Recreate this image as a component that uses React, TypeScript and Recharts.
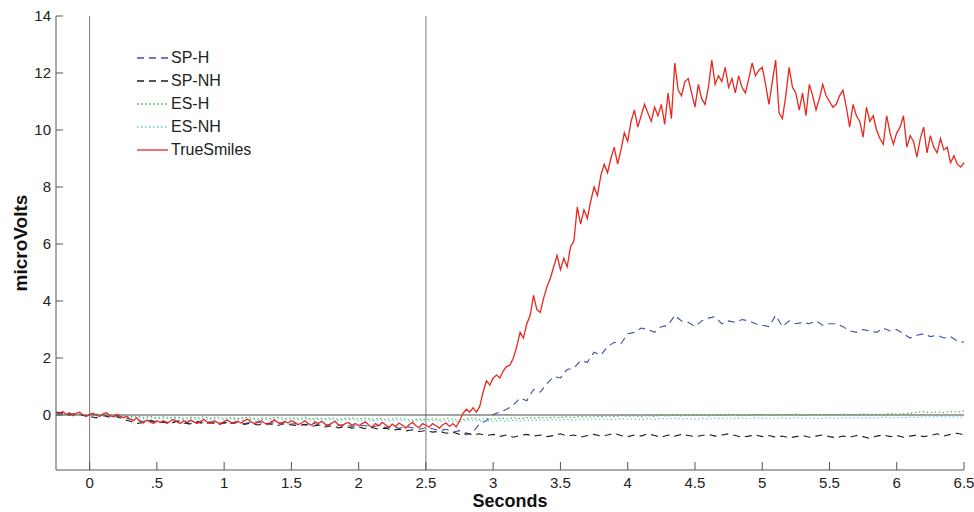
import { LineChart, Line, XAxis, YAxis, ReferenceLine, Legend } from 'recharts';

// sample grids (seconds)
const T_START = -0.25;
const STEP_FINE = 0.025; // TrueSmiles
const STEP = 0.05; // the other four traces

const xTicks = [0, 0.5, 1, 1.5, 2, 2.5, 3, 3.5, 4, 4.5, 5, 5.5, 6, 6.5];
const xTickLabels = ['0', '.5', '1', '1.5', '2', '2.5', '3', '3.5', '4', '4.5', '5', '5.5', '6', '6.5'];
const yTicks = [0, 2, 4, 6, 8, 10, 12, 14];

const trueSmiles = [
  0.1, 0.04, 0.12, 0.02, 0.08, -0.02, 0.06, 0.1, 0.0, -0.05, 0.02,
  0.06, 0.0, -0.05, 0.04, 0.08, -0.02, -0.06, 0.02, -0.04, -0.1, -0.05, -0.14, -0.2, -0.1, -0.22, -0.28, -0.18, -0.24, -0.3, -0.2,
  -0.26, -0.2, -0.3, -0.22, -0.16, -0.24, -0.3, -0.2, -0.26, -0.18, -0.24, -0.3, -0.22, -0.16, -0.25, -0.3, -0.2, -0.26, -0.32, -0.22,
  -0.18, -0.26, -0.3, -0.22, -0.28, -0.2, -0.15, -0.24, -0.3, -0.26, -0.2, -0.28, -0.34, -0.24, -0.18, -0.26, -0.32, -0.22, -0.28, -0.2,
  -0.26, -0.34, -0.28, -0.2, -0.3, -0.36, -0.24, -0.3, -0.22, -0.32, -0.38, -0.28, -0.22, -0.34, -0.4, -0.3, -0.26, -0.36, -0.3, -0.38,
  -0.3, -0.24, -0.36, -0.42, -0.3, -0.38, -0.26, -0.34, -0.44, -0.32, -0.4, -0.28, -0.36, -0.46, -0.34, -0.26, -0.38, -0.44, -0.3, -0.36,
  -0.42, -0.3, -0.38, -0.46, -0.34, -0.28, -0.4, -0.3, -0.42, -0.2, 0.05, 0.2, 0.1, 0.25, 0.1, 0.3, 0.8, 1.2, 1.05, 1.3,
  1.4, 1.3, 1.55, 1.7, 1.75, 2.0, 2.4, 2.9, 2.7, 3.2, 3.5, 4.2, 3.7, 3.6, 4.1, 4.5, 4.8, 5.2, 5.6, 5.1,
  5.5, 5.2, 5.9, 6.1, 7.3, 6.7, 7.2, 6.9, 7.5, 8.0, 7.7, 8.4, 8.8, 8.5, 9.0, 9.4, 8.8, 9.3, 9.9, 9.6,
  10.3, 10.7, 10.1, 10.5, 10.9, 10.6, 10.3, 10.8, 10.5, 10.9, 10.2, 11.3, 10.4, 12.35, 11.4, 11.2, 11.7, 11.8, 11.3, 10.8,
  11.6, 11.1, 10.9, 11.5, 12.45, 11.6, 11.9, 11.7, 12.2, 11.5, 11.8, 11.3, 11.9, 11.5, 11.3, 11.8, 12.35, 11.9, 12.1, 12.2,
  11.6, 10.9, 11.7, 12.45, 10.6, 10.4, 11.2, 12.2, 11.5, 11.3, 10.7, 11.3, 10.5, 11.6, 11.2, 10.7, 11.1, 11.6, 11.2, 11.0,
  10.8, 10.9, 11.2, 11.4, 10.8, 10.1, 10.9, 10.5, 10.3, 9.75, 10.8, 10.3, 10.5, 10.0, 9.7, 9.5, 10.5, 9.9, 9.5, 9.9,
  10.1, 10.5, 9.4, 9.8, 9.6, 9.05, 9.7, 10.1, 9.2, 9.8, 9.4, 9.2, 9.7, 9.3, 9.4, 8.85, 9.1, 8.8, 8.7, 8.85,
];

const spH = [
  0.05, 0.1, 0.02, 0.06, 0.0, -0.02,
  0.02, 0.0, -0.05, -0.02, -0.08, -0.15, -0.2, -0.22, -0.18, -0.25,
  -0.22, -0.28, -0.2, -0.25, -0.3, -0.22, -0.27, -0.24, -0.3, -0.26,
  -0.28, -0.22, -0.3, -0.26, -0.24, -0.32, -0.27, -0.3, -0.25, -0.32,
  -0.3, -0.35, -0.28, -0.34, -0.38, -0.3, -0.36, -0.33, -0.4, -0.35,
  -0.38, -0.42, -0.36, -0.44, -0.4, -0.47, -0.4, -0.45, -0.5, -0.44,
  -0.48, -0.55, -0.5, -0.6, -0.55, -0.7, -0.6, -0.3, -0.2, 0.02,
  0.1, 0.2, 0.35, 0.6, 0.5, 0.9, 0.8, 1.1, 1.35, 1.3,
  1.6, 1.65, 1.9, 1.85, 2.2, 2.1, 2.4, 2.55, 2.5, 2.85,
  2.9, 3.05, 3.0, 2.9, 3.1, 3.15, 3.5, 3.3, 3.25, 3.1,
  3.3, 3.4, 3.45, 3.2, 3.3, 3.25, 3.35, 3.3, 3.2, 3.15,
  3.1, 3.5, 3.1, 3.3, 3.2, 3.25, 3.2, 3.3, 3.15, 3.2,
  3.2, 3.1, 2.95, 2.9, 3.0, 2.95, 2.9, 3.05, 2.95, 3.0,
  2.85, 2.7, 2.8, 2.85, 2.75, 2.8, 2.7, 2.75, 2.6, 2.55,
];

const spNH = [
  0.1, 0.05, 0.0, 0.06, -0.02, -0.05,
  -0.1, -0.02, -0.08, -0.05, -0.15, -0.22, -0.3, -0.26, -0.2, -0.28,
  -0.25, -0.3, -0.22, -0.28, -0.32, -0.25, -0.3, -0.27, -0.33, -0.28,
  -0.3, -0.26, -0.33, -0.28, -0.35, -0.3, -0.32, -0.37, -0.3, -0.35,
  -0.38, -0.33, -0.4, -0.36, -0.42, -0.38, -0.45, -0.4, -0.46, -0.42,
  -0.48, -0.44, -0.5, -0.46, -0.53, -0.5, -0.56, -0.52, -0.58, -0.55,
  -0.6, -0.57, -0.64, -0.6, -0.68, -0.63, -0.7, -0.66, -0.72, -0.68,
  -0.75, -0.7, -0.78, -0.72, -0.68, -0.74, -0.7, -0.76, -0.72, -0.66,
  -0.74, -0.7, -0.78, -0.72, -0.68, -0.74, -0.7, -0.64, -0.72, -0.76,
  -0.7, -0.74, -0.66, -0.72, -0.78, -0.7, -0.74, -0.68, -0.72, -0.76,
  -0.72, -0.68, -0.74, -0.7, -0.66, -0.72, -0.78, -0.74, -0.7, -0.76,
  -0.72, -0.78, -0.74, -0.8, -0.76, -0.72, -0.78, -0.74, -0.7, -0.76,
  -0.8, -0.74, -0.78, -0.72, -0.76, -0.82, -0.74, -0.7, -0.76, -0.72,
  -0.78, -0.74, -0.7, -0.76, -0.72, -0.66, -0.74, -0.68, -0.64, -0.7,
];

const esH = [
  0.05, 0.02, 0.06, 0.0, 0.03, -0.02,
  0.02, -0.03, 0.0, -0.05, -0.02, -0.06, -0.04, -0.08, -0.05, -0.1,
  -0.06, -0.1, -0.07, -0.12, -0.08, -0.1, -0.06, -0.11, -0.08, -0.12,
  -0.09, -0.12, -0.08, -0.11, -0.14, -0.1, -0.12, -0.08, -0.13, -0.1,
  -0.12, -0.09, -0.14, -0.11, -0.13, -0.1, -0.15, -0.12, -0.1, -0.14,
  -0.11, -0.15, -0.12, -0.16, -0.13, -0.1, -0.15, -0.18, -0.14, -0.16,
  -0.13, -0.17, -0.12, -0.15, -0.18, -0.14, -0.1, -0.16, -0.12, -0.15,
  -0.11, -0.14, -0.1, -0.13, -0.09, -0.12, -0.08, -0.11, -0.07, -0.1,
  -0.06, -0.09, -0.05, -0.08, -0.04, -0.07, -0.03, -0.06, -0.02, -0.05,
  -0.03, -0.06, -0.02, -0.05, -0.01, -0.04, 0.0, -0.03, 0.01, -0.02,
  0.0, -0.03, 0.01, -0.02, 0.02, -0.01, 0.01, -0.02, 0.02, 0.0,
  0.01, -0.02, 0.02, 0.0, 0.03, -0.01, 0.01, 0.02, -0.01, 0.02,
  0.0, 0.03, 0.01, 0.02, 0.04, 0.01, 0.03, 0.02, 0.05, 0.03,
  0.04, 0.06, 0.1, 0.12, 0.08, 0.11, 0.09, 0.12, 0.1, 0.14,
];

const esNH = [
  0.03, 0.0, 0.05, -0.02, 0.02, -0.03,
  0.0, -0.04, -0.02, -0.06, -0.04, -0.08, -0.1, -0.12, -0.1, -0.14,
  -0.12, -0.15, -0.12, -0.16, -0.13, -0.15, -0.12, -0.16, -0.14, -0.17,
  -0.14, -0.17, -0.13, -0.16, -0.18, -0.15, -0.17, -0.14, -0.18, -0.16,
  -0.17, -0.15, -0.19, -0.16, -0.18, -0.15, -0.2, -0.17, -0.16, -0.2,
  -0.18, -0.21, -0.17, -0.22, -0.19, -0.17, -0.21, -0.23, -0.2, -0.22,
  -0.19, -0.23, -0.2, -0.22, -0.24, -0.2, -0.18, -0.22, -0.2, -0.23,
  -0.19, -0.22, -0.18, -0.21, -0.17, -0.2, -0.16, -0.19, -0.15, -0.18,
  -0.15, -0.18, -0.14, -0.17, -0.13, -0.16, -0.14, -0.17, -0.13, -0.15,
  -0.13, -0.16, -0.12, -0.15, -0.12, -0.14, -0.11, -0.14, -0.12, -0.15,
  -0.12, -0.14, -0.11, -0.13, -0.1, -0.13, -0.11, -0.14, -0.1, -0.12,
  -0.11, -0.13, -0.1, -0.12, -0.09, -0.12, -0.1, -0.13, -0.11, -0.1,
  -0.12, -0.09, -0.11, -0.1, -0.12, -0.09, -0.11, -0.08, -0.1, -0.09,
  -0.1, -0.07, -0.09, -0.06, -0.08, -0.05, -0.07, -0.06, -0.08, -0.06,
];

const toPoints = (values: number[], step: number) =>
  values.map((v, i) => ({ t: +(T_START + i * step).toFixed(3), v }));

const FONT = '"Liberation Sans", Arial, sans-serif';
const AXIS = '#555';

const series = [
  { name: 'SP-H', data: toPoints(spH, STEP), color: '#3f4fa6', dash: '7 5', width: 1.1 },
  { name: 'SP-NH', data: toPoints(spNH, STEP), color: '#1e1e1e', dash: '7 5', width: 1.1 },
  { name: 'ES-H', data: toPoints(esH, STEP), color: '#3cb43c', dash: '1.5 2.5', width: 1.1 },
  { name: 'ES-NH', data: toPoints(esNH, STEP), color: '#62c3e6', dash: '1.5 2.5', width: 1.1 },
  { name: 'TrueSmiles', data: toPoints(trueSmiles, STEP_FINE), color: '#e8281e', dash: undefined, width: 1.3 },
];

const XTick = ({ x, y, payload }: any) => {
  const idx = xTicks.indexOf(payload.value);
  return (
    <g>
      <line x1={x} y1={y} x2={x} y2={y - 8} stroke={AXIS} />
      <text x={x} y={y + 18} textAnchor="middle" fontSize={15} fontFamily={FONT} fill="#222">
        {idx >= 0 ? xTickLabels[idx] : payload.value}
      </text>
    </g>
  );
};

const YTick = ({ x, y, payload }: any) => (
  <g>
    <line x1={x} y1={y} x2={x + 7} y2={y} stroke={AXIS} />
    <text x={x - 5} y={y + 5} textAnchor="end" fontSize={15} fontFamily={FONT} fill="#222">
      {payload.value}
    </text>
  </g>
);

const renderLegend = () => (
  <div style={{ fontFamily: FONT, fontSize: 16, color: '#222' }}>
    {series.map((s) => (
      <div key={s.name} style={{ display: 'flex', alignItems: 'center', height: 23 }}>
        <svg width={34} height={10} style={{ marginRight: 1 }}>
          <line x1={1} y1={5} x2={32} y2={5} stroke={s.color} strokeWidth={1.3} strokeDasharray={s.dash} />
        </svg>
        <span>{s.name}</span>
      </div>
    ))}
  </div>
);

export default function App() {
  return (
    <div style={{ background: '#fff', width: 974, height: 512 }}>
      <style>{'body{margin:0}'}</style>
      <LineChart width={974} height={512} margin={{ top: 16, right: 10, left: 0, bottom: 0 }}>
        <XAxis
          dataKey="t"
          type="number"
          domain={[-0.25, 6.5]}
          ticks={xTicks}
          interval={0}
          height={42}
          tickSize={0}
          tickMargin={0}
          tickLine={false}
          tick={<XTick />}
          axisLine={{ stroke: AXIS }}
          allowDuplicatedCategory={false}
          label={{
            value: 'Seconds',
            position: 'insideBottom',
            offset: 5,
            style: { fontFamily: FONT, fontSize: 18, fontWeight: 'bold', fill: '#111' },
          }}
        />
        <YAxis
          type="number"
          domain={[-1.93, 14]}
          ticks={yTicks}
          width={56}
          tickSize={0}
          tickMargin={0}
          tickLine={false}
          tick={<YTick />}
          axisLine={{ stroke: AXIS }}
          label={{
            value: 'microVolts',
            position: 'center',
            angle: -90,
            dx: -8,
            style: { fontFamily: FONT, fontSize: 19, fontWeight: 'bold', fill: '#111' },
          }}
        />
        <ReferenceLine x={0} stroke="#777" />
        <ReferenceLine x={2.5} stroke="#777" />
        <ReferenceLine y={0} stroke="#444" />
        {series.map((s) => (
          <Line
            key={s.name}
            data={s.data}
            dataKey="v"
            name={s.name}
            type="linear"
            stroke={s.color}
            strokeWidth={s.width}
            strokeDasharray={s.dash}
            dot={false}
            activeDot={false}
            isAnimationActive={false}
          />
        ))}
        <Legend
          layout="vertical"
          align="center"
          verticalAlign="middle"
          content={renderLegend}
          wrapperStyle={{ left: 136, top: 46, width: 'auto' }}
        />
      </LineChart>
    </div>
  );
}
